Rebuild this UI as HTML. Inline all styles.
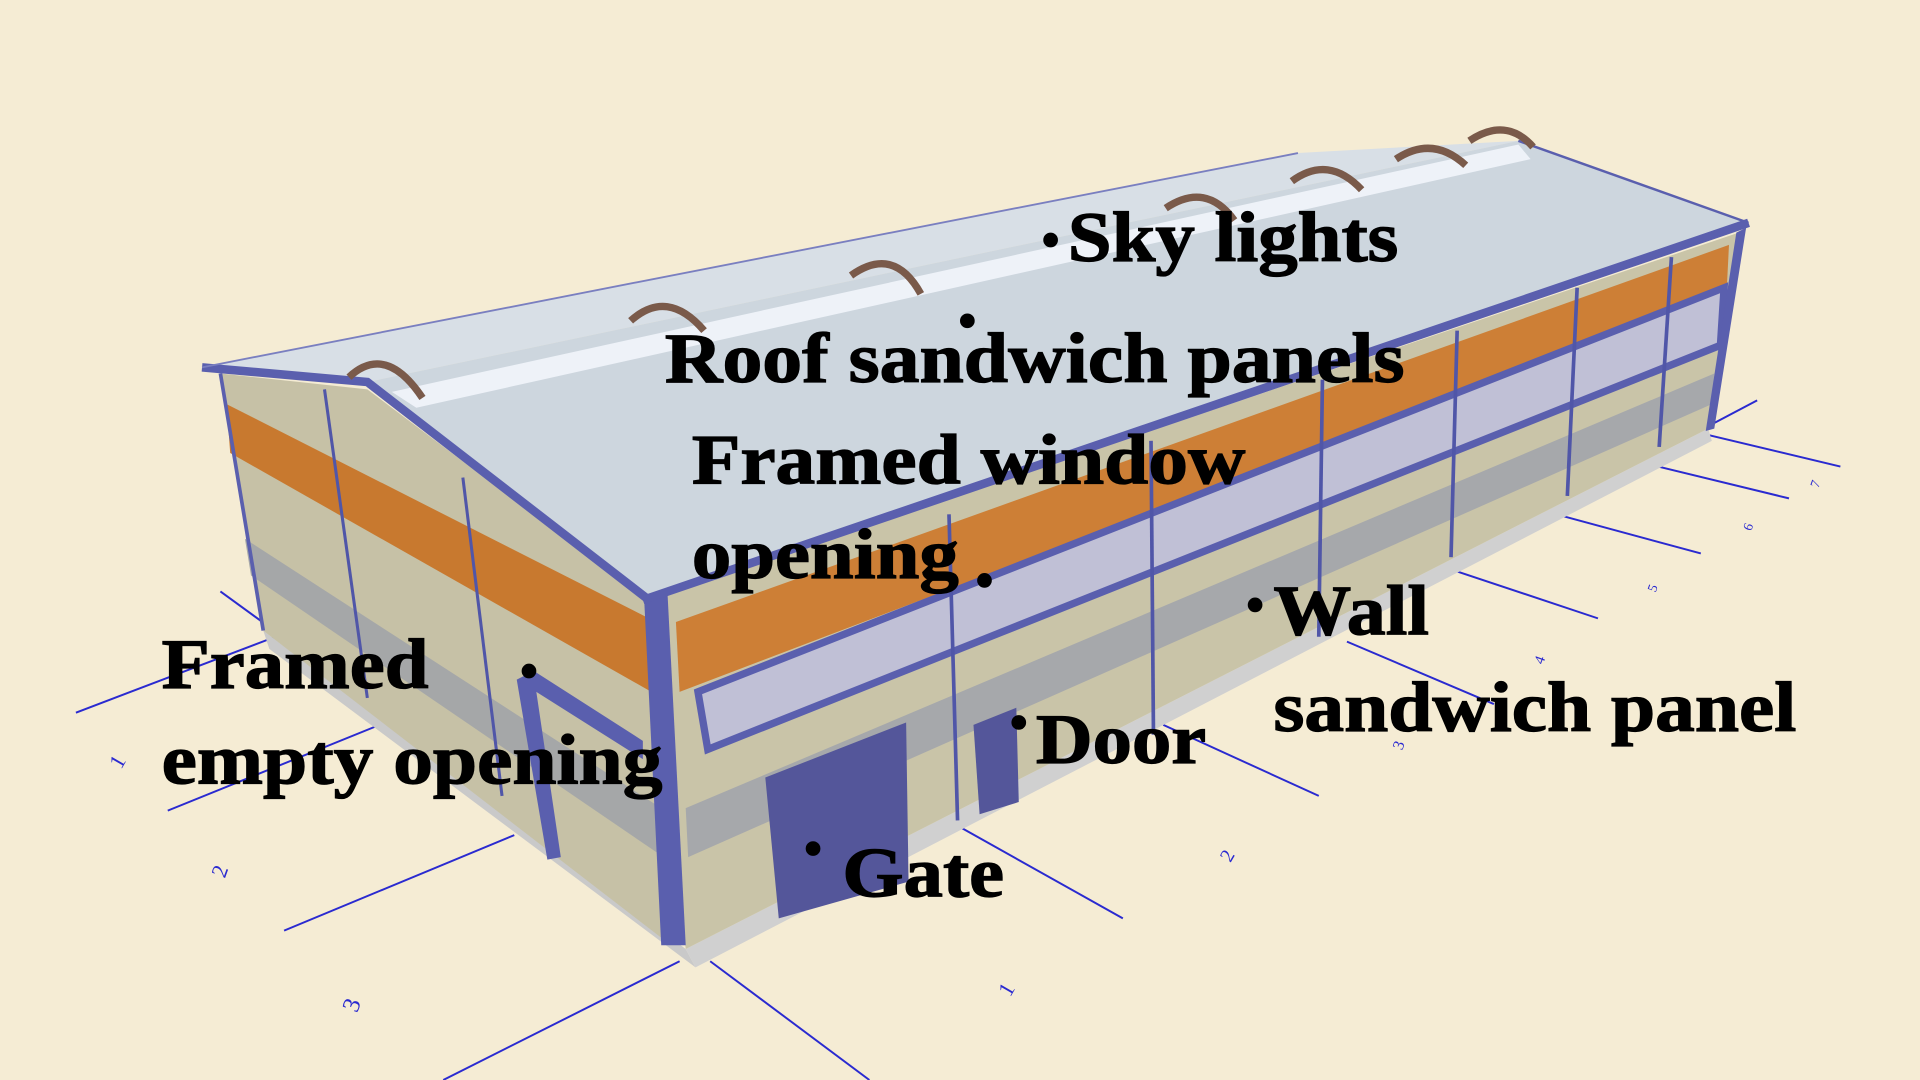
<!DOCTYPE html>
<html><head><meta charset="utf-8"><style>
html,body{margin:0;padding:0;background:#f5ecd4;}
svg{display:block}
text{font-family:"Liberation Serif",serif;font-weight:bold;fill:#000}
</style></head><body>
<svg width="1920" height="1080" viewBox="0 0 1568 882" xmlns="http://www.w3.org/2000/svg">
<rect width="1568" height="882" fill="#f5ecd4"/>
<g stroke="#2a2ad0" stroke-width="1.6" fill="none">
<line x1="180" y1="483" x2="272" y2="550"/>
<line x1="62" y1="582" x2="225" y2="520"/>
<line x1="137" y1="662" x2="310" y2="592"/>
<line x1="232" y1="760" x2="420" y2="682"/>
<line x1="362" y1="882" x2="555" y2="785"/>
<line x1="580" y1="785" x2="710" y2="882"/>
<line x1="460" y1="692" x2="530" y2="745"/>
<line x1="785" y1="676" x2="917" y2="750"/>
<line x1="950" y1="592" x2="1077" y2="650"/>
<line x1="1100" y1="524" x2="1220" y2="575"/>
<line x1="1185" y1="465" x2="1305" y2="505"/>
<line x1="1271" y1="420" x2="1389" y2="452"/>
<line x1="1350" y1="380" x2="1461" y2="407"/>
<line x1="1394" y1="355" x2="1503" y2="381"/>
<line x1="1399" y1="346" x2="1435" y2="327"/>
</g>
<g style="font-weight:normal">
<text x="92" y="627" transform="rotate(-60 97 622)" style="font-weight:normal;fill:#2a2ad0;font-size:18px">1</text>
<text x="174" y="716" transform="rotate(-70 180 710)" style="font-weight:normal;fill:#2a2ad0;font-size:18px">2</text>
<text x="282" y="826" transform="rotate(-70 288 820)" style="font-weight:normal;fill:#2a2ad0;font-size:20px">3</text>
<text x="818" y="813" transform="rotate(-60 823 808)" style="font-weight:normal;fill:#2a2ad0;font-size:18px">1</text>
<text x="998" y="703" transform="rotate(-60 1003 698)" style="font-weight:normal;fill:#2a2ad0;font-size:16px">2</text>
<text x="1138" y="611" transform="rotate(-70 1143 607)" style="font-weight:normal;fill:#2a2ad0;font-size:13px">3</text>
<text x="1253" y="541" transform="rotate(-70 1258 537)" style="font-weight:normal;fill:#2a2ad0;font-size:12px">4</text>
<text x="1345" y="482" transform="rotate(-70 1350 478)" style="font-weight:normal;fill:#2a2ad0;font-size:11px">5</text>
<text x="1423" y="432" transform="rotate(-70 1428 428)" style="font-weight:normal;fill:#2a2ad0;font-size:11px">6</text>
<text x="1478" y="397" transform="rotate(-70 1483 393)" style="font-weight:normal;fill:#2a2ad0;font-size:11px">7</text>
</g>
<polygon points="215,515 560,775 568,790 220,530" fill="#c9c9c9"/>
<polygon points="560,775 1395,350 1398,360 568,790" fill="#d0d0d0"/>
<polygon points="180,305 300,318 535,495 548,772 215,515" fill="#c6c1a6"/>
<polygon points="185,330 530,505 532,565 188,370" fill="#c8792f"/>
<polygon points="200,440 540,660 542,700 205,470" fill="#a5a7a8"/>
<g stroke="#5056a8" stroke-width="2.5"><line x1="265" y1="318" x2="300" y2="570"/><line x1="378" y1="390" x2="410" y2="650"/></g>
<polygon points="422,555 436,548 525,605 525,620 438,565 458,700 447,702" fill="#5a5fae"/>
<polygon points="530,490 1420,190 1395,350 560,775" fill="#c9c4a8"/>
<polygon points="552,508 1412,200 1410,240 555,565" fill="#cd7f36"/>
<polygon points="570,565 1408,235 1405,282 578,612" fill="#c0c0d6" stroke="#5a5fae" stroke-width="6"/>
<polygon points="560,660 1400,305 1398,330 562,700" fill="#a6a8ab"/>
<g stroke="#5056a8" stroke-width="3">
<line x1="775" y1="420" x2="782" y2="670"/><line x1="940" y1="360" x2="942" y2="600"/>
<line x1="1080" y1="310" x2="1077" y2="520"/><line x1="1190" y1="270" x2="1185" y2="455"/>
<line x1="1288" y1="235" x2="1280" y2="405"/><line x1="1365" y1="210" x2="1355" y2="365"/>
</g>
<polygon points="526,488 545,482 560,772 540,772" fill="#5a5fae"/>
<polygon points="1418,190 1426,186 1400,350 1393,352" fill="#5a5fae"/>
<line x1="180" y1="305" x2="215" y2="515" stroke="#5a5fae" stroke-width="3"/>
<polygon points="625,635 740,590 742,720 636,750" fill="#54569a"/>
<polygon points="795,592 830,578 832,655 800,665" fill="#54569a"/>
<polygon points="165,300 1060,125 1240,115 300,312" fill="#d8dfe6"/>
<polygon points="300,312 1240,115 1428,182 525,490" fill="#cdd6de"/>
<polygon points="320,320 1240,118 1250,130 340,333" fill="#eef2f8"/>
<polyline points="165,300 300,312 530,490" fill="none" stroke="#5a5fae" stroke-width="7"/>
<line x1="525" y1="490" x2="1428" y2="182" stroke="#5a5fae" stroke-width="7"/>
<line x1="165" y1="300" x2="1060" y2="125" stroke="#7a7fc0" stroke-width="1.5"/>
<line x1="1240" y1="115" x2="1428" y2="182" stroke="#5a5fae" stroke-width="2"/>
<g fill="none" stroke="#7a5a4a" stroke-width="6">
<path d="M285,308 Q315,280 345,325"/><path d="M515,262 Q545,235 575,270"/>
<path d="M695,225 Q730,200 752,240"/><path d="M952,170 Q985,148 1008,180"/>
<path d="M1055,148 Q1085,126 1112,155"/><path d="M1140,130 Q1170,110 1197,135"/>
<path d="M1200,115 Q1230,95 1252,120"/>
</g>
<g fill="#000">
<circle cx="858" cy="196" r="6"/><circle cx="790" cy="262" r="6"/><circle cx="804" cy="474" r="6"/>
<circle cx="1025" cy="494" r="6"/><circle cx="432" cy="548" r="6"/><circle cx="832" cy="590" r="6"/><circle cx="664" cy="693" r="6"/>
</g>
<g font-size="58" stroke="#000" stroke-width="1">
<text x="872" y="213" textLength="270" lengthAdjust="spacingAndGlyphs">Sky lights</text>
<text x="543" y="312" textLength="604" lengthAdjust="spacingAndGlyphs">Roof sandwich panels</text>
<text x="565" y="395" textLength="452" lengthAdjust="spacingAndGlyphs">Framed window</text>
<text x="565" y="472" textLength="218" lengthAdjust="spacingAndGlyphs">opening</text>
<text x="1040" y="518" textLength="127" lengthAdjust="spacingAndGlyphs">Wall</text>
<text x="1040" y="597" textLength="427" lengthAdjust="spacingAndGlyphs">sandwich panel</text>
<text x="132" y="562" textLength="218" lengthAdjust="spacingAndGlyphs">Framed</text>
<text x="132" y="640" textLength="409" lengthAdjust="spacingAndGlyphs">empty opening</text>
<text x="846" y="623" textLength="139" lengthAdjust="spacingAndGlyphs">Door</text>
<text x="688" y="732" textLength="132" lengthAdjust="spacingAndGlyphs">Gate</text>
</g>
</svg>
</body></html>
